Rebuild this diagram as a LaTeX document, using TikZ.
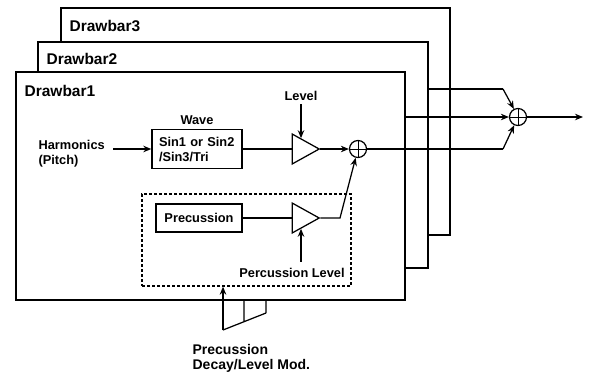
\documentclass[tikz,border=0pt]{standalone}
\usepackage{fontspec}
\setmainfont{Liberation Sans}
\usetikzlibrary{positioning,arrows.meta,shapes.geometric,calc}

\begin{document}
\begin{tikzpicture}[
  x=1pt,y=-1pt,
  font=\bfseries\fontsize{12.8}{15}\selectfont,
  line width=1.25pt,
  bar/.style={draw,fill=white,line width=1.5pt,minimum width=389pt,minimum height=227pt,anchor=north west,inner sep=0pt},
  ttl/.style={anchor=west,inner sep=0pt,font=\bfseries\fontsize{15.5}{18}\selectfont},
  txt/.style={inner sep=0pt,align=left},
  blk/.style={draw,line width=1.4pt,inner sep=0pt,align=left},
  amp/.style={draw,isosceles triangle,isosceles triangle apex angle=58,minimum height=27pt,inner sep=0pt},
  adder/.style={draw,circle,minimum size=17pt,inner sep=0pt,
    path picture={\draw[line width=1pt] (path picture bounding box.north)--(path picture bounding box.south)
      (path picture bounding box.west)--(path picture bounding box.east);}},
  >={Stealth[length=8pt,width=6.5pt]}
]
\useasboundingbox (0,0) rectangle (591,376);
% the three drawbar boxes, back to front
\node[bar] (d3) at (60,7) {};
\node[ttl] (t3) at (69,26) {Drawbar3};
\node[bar,minimum width=390pt,minimum height=226pt] (d2) at (37,41) {};
\node[ttl] (t2) at (46,59) {Drawbar2};
\node[bar,minimum height=228pt] (d1) at (15,71) {};
\node[ttl] (t1) at (24,91) {Drawbar1};

\node[blk,text width=76pt,minimum height=39pt,inner xsep=7pt] (wave) at (197,149) {Sin1 or Sin2\\/Sin3/Tri};
\node[txt,above=4pt of wave] (wlbl) {Wave};
\node[txt,anchor=west] (harm) at (38,154) {Harmonics\\(Pitch)};
\node[amp] (amp1) at (301,149) {};
\node[txt] (lvl) at (301,96) {Level};
\node[adder] (sum1) at (358,149) {};

\node[blk,minimum width=86pt,minimum height=28pt] (prec) at (199,218) {Precussion};
\node[amp] (amp2) at (301,218) {};
\node[txt] (plvl) at (292,273) {Percussion Level};
\node[draw,dash pattern=on 3pt off 2pt,line width=1.3pt,minimum width=209pt,minimum height=92pt] (grp) at (246.5,240) {};
\node[txt,anchor=north west,font=\bfseries\fontsize{14}{15}\selectfont] (mod) at (192,344) {Precussion\\Decay/Level Mod.};
\node[adder] (sum2) at (518,117) {};

\coordinate (m1) at (223,330);
\coordinate (m2) at (244,321.6);
\coordinate (m3) at (266,313);
\coordinate (o1) at (340,218);
\coordinate (j1) at (503,149);
\coordinate (j2) at (503,89);
\coordinate (e1) at (d1.east |- sum2);
\coordinate (e2) at (d2.east |- j2);
\coordinate (out) at (583,117);

\draw[->] ($(harm.east |- wave.west)+(8,0)$) -- (wave);
\draw (wave) -- (amp1);
\draw[->,shorten <=3pt] (lvl) -- (amp1.north);
\draw[->] (amp1.apex) -- (sum1);
\draw (prec) -- (amp2);
\draw[->] ($(amp2 |- plvl.north)+(0,-6)$) -- (amp2.south);
\draw[->] (amp2.apex) -- (o1) -- (sum1.-105);
\draw[->] (m1) -- (grp.south -| m1);
\draw (m1) -- (m3) (m2) -- (m2 |- d1.south) (m3) -- (m3 |- d1.south);
\draw (sum1) -- (j1);
\draw[->] (j1) -- (sum2.-115);
\draw (e2) -- (j2);
\draw[->] (j2) -- (sum2.117);
\draw[->] (e1) -- (sum2);
\draw[->] (sum2) -- (out);
\end{tikzpicture}
\end{document}
